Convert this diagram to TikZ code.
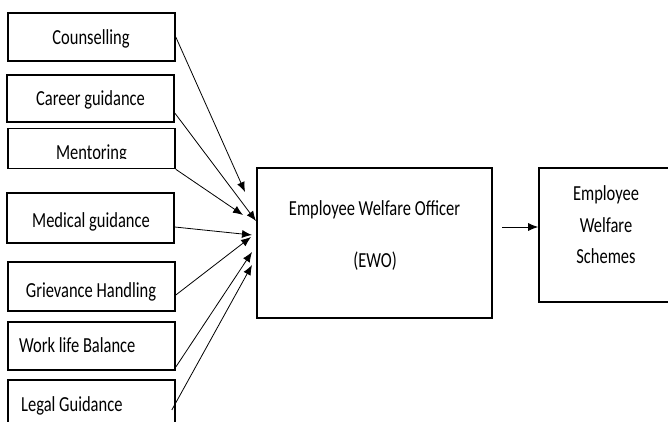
\documentclass[tikz,border=0pt]{standalone}
\usepackage{fontspec}
\setmainfont{Carlito}
\usetikzlibrary{arrows.meta}
\newcommand{\tall}[1]{\scalebox{1}[1.3]{#1}}
\begin{document}
\begin{tikzpicture}[x=1pt,y=-1pt,
  box/.style={draw, line width=1.6pt, minimum width=167pt, minimum height=#1, inner sep=0pt},
  lbl/.style={font=\fontsize{16.5}{20}\selectfont, inner sep=0pt, anchor=base},
  arr/.style={line width=0.8pt, -{Latex[length=10pt,width=8pt]}}]
\useasboundingbox (0,0) rectangle (668,421);
% left boxes
\node[box=48pt] (couns) at (91.5,37) {};
\node[box=47pt] (career) at (90.5,98.5) {};
\node[box=40pt] (ment) at (91.5,148.5) {};
\node[box=50pt] (med) at (90.5,218) {};
\node[box=49pt] (griev) at (91.5,286.5) {};
\node[box=48pt] (work) at (91.5,346) {};
\node[box=50pt] (legal) at (91.5,405) {};
% texts
\node[lbl] (tcouns) at (91,44) {\tall{Counselling}};
\node[lbl] (tcareer) at (90.5,105) {\tall{Career guidance}};
\begin{scope}
\clip (0,129) rectangle (175,158.5);
\node[lbl] (tment) at (91.5,159) {\tall{Mentoring}};
\end{scope}
\node[lbl] (tmed) at (91,227) {\tall{Medical guidance}};
\node[lbl] (tgriev) at (91,297) {\tall{Grievance Handling}};
\node[lbl, anchor=base west] (twork) at (19,352) {\tall{Work life Balance}};
\node[lbl, anchor=base west] (tlegal) at (21,411) {\tall{Legal Guidance}};
% EWO
\node[box=150pt, minimum width=235pt] (ewo) at (374.5,243) {};
\node[lbl] (tewo1) at (374.5,215) {\tall{Employee Welfare Officer}};
\node[lbl] (tewo2) at (375,267) {\tall{(EWO)}};
% schemes
\node[box=134pt, minimum width=134pt] (sch) at (606,235) {};
\node[lbl] (tsch1) at (606,200) {\tall{Employee}};
\node[lbl] (tsch2) at (606,232) {\tall{Welfare}};
\node[lbl] (tsch3) at (606,263) {\tall{Schemes}};
% arrow targets
\coordinate (t1) at (245,192);
\coordinate (t2) at (256,221);
\coordinate (t3) at (243,215);
\coordinate (t4) at (252,235);
\coordinate (t5) at (251,237);
\coordinate (t6) at (252,252);
\coordinate (t7) at (252,265);
\draw[arr] (couns.east) -- (t1);
\draw[arr] ([yshift=-14.5pt]career.east) -- (t2);
\draw[arr] (ment.south east) -- (t3);
\draw[arr] ([yshift=-9pt]med.east) -- (t4);
\draw[arr] ([yshift=-8.5pt]griev.east) -- (t5);
\draw[arr] ([yshift=-21pt]work.east) -- (t6);
\draw[arr] ([xshift=-4pt,yshift=-5pt]legal.east) -- (t7);
\coordinate (a0) at (502,227);
\draw[arr] (a0) -- (sch.west |- a0);
\end{tikzpicture}
\end{document}
